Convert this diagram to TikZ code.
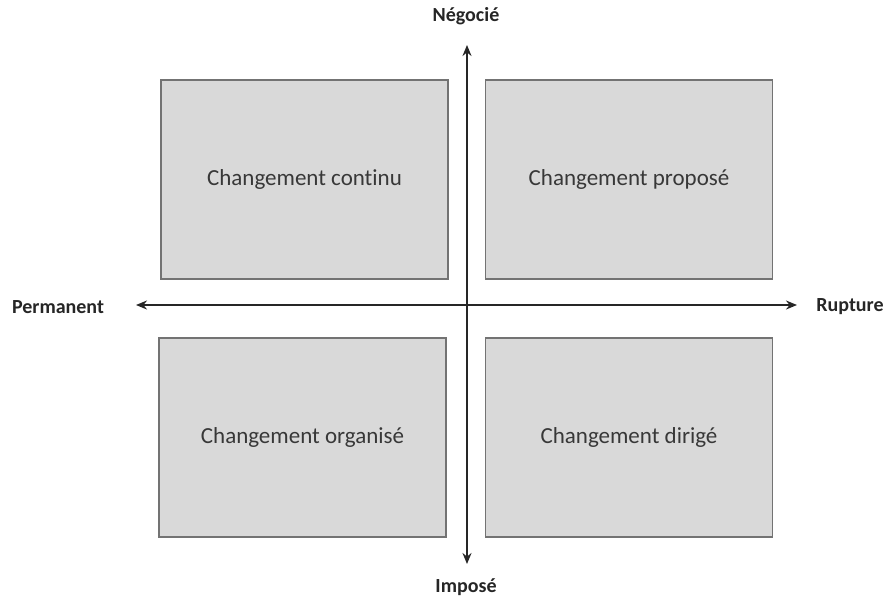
\documentclass[tikz,border=0pt]{standalone}
\usepackage{fontspec}
\setmainfont{Carlito}[Ligatures=NoCommon]
\usetikzlibrary{arrows.meta}
\begin{document}
\begin{tikzpicture}[x=1pt,y=-1pt,
  quad/.style={draw=black!55,line width=1.4pt,fill=black!15,minimum width=287pt,minimum height=199pt,
    inner sep=0pt,font=\fontsize{23}{26}\selectfont,text=black!78},
  axislabel/.style={font=\bfseries\fontsize{20}{24}\selectfont,text=black!85},
  axis/.style={line width=2.4pt,black!85,{Stealth[length=11pt,width=9pt]}-{Stealth[length=11pt,width=9pt]}}]
\useasboundingbox (0,0) rectangle (889,600);
% four quadrants
\node[quad] (cc) at (304.5,179.5) {Changement continu};
\node[quad] (cp) at (629,179.5) {Changement proposé};
\node[quad] (co) at (302.5,437.5) {Changement organisé};
\node[quad] (cd) at (629,437.5) {Changement dirigé};
% axis labels
\node[axislabel] (neg) at (466,16) {Négocié};
\node[axislabel] (imp) at (466,587) {Imposé};
\node[axislabel] (per) at (58,307) {Permanent};
\node[axislabel] (rup) at (850,307) {Rupture};
% axes
\coordinate (top) at (467,45);
\coordinate (bot) at (467,564);
\coordinate (lft) at (136,305);
\coordinate (rgt) at (797,305);
\draw[axis] (bot) -- (top);
\draw[axis] (lft) -- (rgt);
\end{tikzpicture}
\end{document}
